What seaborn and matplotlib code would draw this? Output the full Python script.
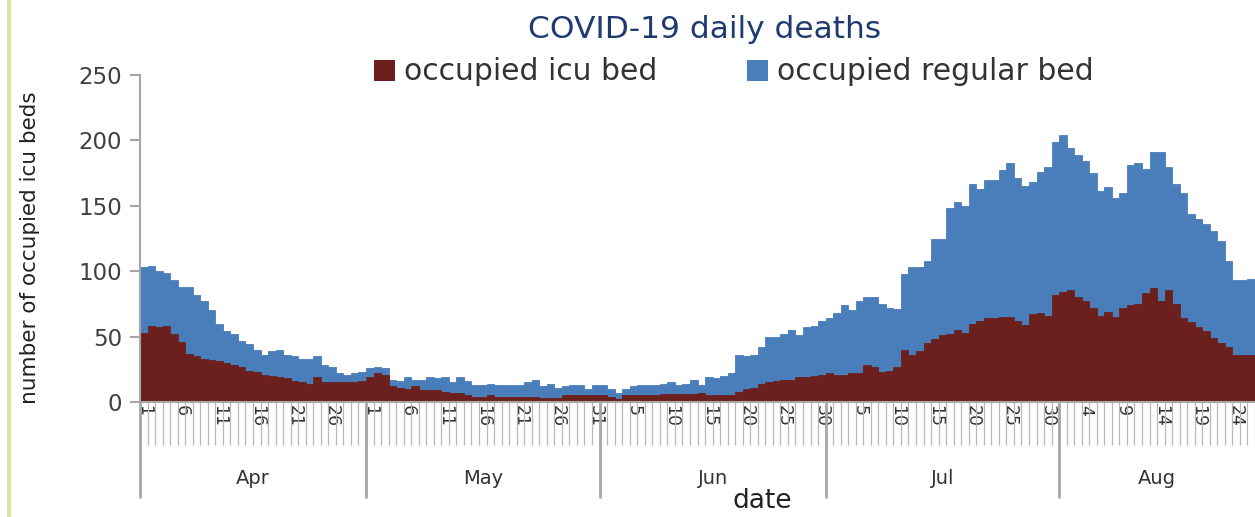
import numpy as np
import pandas as pd
import matplotlib
matplotlib.use("Agg")
import matplotlib.pyplot as plt
from matplotlib.patches import Patch
from matplotlib.lines import Line2D
from matplotlib import transforms
import seaborn as sns

# ---------------- data ----------------
start_date = "2020-04-01"
n_days = 148
icu = [53, 58, 57, 58, 52, 46, 37, 35, 33, 32, 31, 30, 28, 27, 24, 23, 21, 20, 19, 18,
       16, 15, 14, 19, 15, 15, 15, 15, 15, 16, 19, 22, 21, 12, 11, 10, 12, 9, 9, 9,
       8, 7, 7, 5, 4, 4, 5, 4, 4, 4, 4, 4, 4, 3, 3, 3, 5, 5, 5, 5,
       5, 5, 4, 2, 5, 5, 5, 5, 5, 6, 6, 6, 6, 6, 7, 5, 5, 5, 5, 8,
       10, 11, 14, 15, 16, 17, 17, 19, 19, 20, 21, 22, 21, 21, 22, 22, 28, 27, 23, 24,
       27, 40, 36, 39, 45, 48, 51, 52, 55, 53, 60, 62, 64, 64, 65, 65, 62, 59, 67, 68,
       66, 82, 84, 86, 80, 77, 72, 66, 69, 65, 72, 74, 75, 83, 87, 77, 86, 75, 64, 61,
       57, 54, 49, 45, 42, 36, 36, 36]
regular = [50, 46, 43, 41, 41, 42, 51, 47, 44, 38, 29, 24, 24, 20, 20, 17, 15, 19, 21, 18,
           19, 18, 19, 16, 13, 12, 7, 6, 7, 7, 7, 5, 5, 5, 5, 9, 5, 8, 10, 9,
           11, 8, 12, 11, 9, 9, 9, 9, 9, 9, 9, 11, 13, 9, 11, 8, 7, 8, 8, 5,
           8, 8, 6, 5, 5, 7, 8, 8, 8, 8, 9, 7, 8, 11, 6, 14, 13, 15, 17, 28,
           25, 25, 28, 35, 34, 35, 38, 32, 38, 38, 41, 42, 47, 53, 48, 55, 52, 53, 52, 48,
           44, 58, 67, 64, 63, 77, 74, 96, 98, 97, 107, 101, 106, 106, 112, 118, 109, 106, 101, 108,
           114, 117, 120, 108, 109, 107, 103, 95, 95, 91, 88, 107, 108, 95, 104, 114, 94, 92, 96, 83,
           83, 82, 82, 78, 66, 57, 57, 58]
y_ticks = [0, 50, 100, 150, 200, 250]
series_names = ["occupied icu bed", "occupied regular bed"]
title = "COVID-19 daily deaths"
y_label = "number of occupied icu beds"
x_label = "date"

# ---------------- derived ----------------
dates = pd.date_range(start_date, periods=n_days, freq="D")
idx = np.arange(n_days)
icu_a = np.array(icu, dtype=float)
total_a = icu_a + np.array(regular, dtype=float)
df = pd.DataFrame({"idx": idx, "icu": icu_a, "total": total_a})

c_icu = "#6B201D"
c_reg = "#4A7EBB"
grey = "#A6A6A6"
txt = "#333333"

W, H = 1255, 517
fig = plt.figure(figsize=(W / 100, H / 100), dpi=100)
sns.set_style("white")
plt.rcParams["font.family"] = ["DejaVu Sans"]

ax = fig.add_axes([140 / W, (H - 402) / H, (W - 140) / W, 327 / H])

sns.barplot(data=df, x="idx", y="total", color=c_reg, width=1.0, saturation=1,
            linewidth=0.6, edgecolor=c_reg, errorbar=None, ax=ax)
sns.barplot(data=df, x="idx", y="icu", color=c_icu, width=1.0, saturation=1,
            linewidth=0.6, edgecolor=c_icu, errorbar=None, ax=ax)

ax.set_xlim(-0.5, -0.5 + (W - 140) / 7.55)
ax.set_ylim(0, 250)
ax.set_yticks(y_ticks)
ax.set_yticklabels([str(v) for v in y_ticks], fontsize=16.5, color="#404040")
ax.tick_params(axis="y", length=7, width=1.5, color=grey, pad=6, left=True)

# x ticks: labels every 5 days, stripe ticks at every day boundary
lab_pos = idx[::5]
ax.set_xticks(lab_pos)
ax.set_xticklabels([str(d.day) for d in dates[::5]], rotation=-90, fontsize=12.5,
                   color=txt, va="top", ha="center")
ax.tick_params(axis="x", which="major", length=0, pad=2)
ax.set_xticks(np.arange(n_days + 1) - 0.5, minor=True)
ax.tick_params(axis="x", which="minor", length=31, width=0.9, color="#B8B8B8",
               bottom=True)
ax.set_xlabel("")
ax.set_ylabel("")

for s in ["top", "right"]:
    ax.spines[s].set_visible(False)
for s in ["left", "bottom"]:
    ax.spines[s].set_color(grey)
    ax.spines[s].set_linewidth(1.5)

# month separators and labels
trans = transforms.blended_transform_factory(ax.transData, ax.transAxes)
month_starts = [i for i in idx if dates[i].day == 1]
for m in month_starts:
    ax.plot([m - 0.5, m - 0.5], [0, -95 / 327], color=grey, lw=2,
            transform=trans, clip_on=False)
months = pd.Series(idx).groupby(dates.to_period("M")).agg(["min", "max"])
for per, row in months.iterrows():
    cx = (row["min"] + row["max"] + 1) / 2 - 0.5
    ax.text(cx, -76 / 327, per.strftime("%b"), transform=trans, ha="center",
            va="center", fontsize=14, color=txt)

# axis labels and title
fig.text(30 / W, 1 - 248 / H, y_label, rotation=90, ha="center", va="center",
         fontsize=15.5, color="#222222")
fig.text(762 / W, 1 - 501 / H, x_label, ha="center", va="center", fontsize=19,
         color="#222222")
fig.text(705 / W, 1 - 29 / H, title, ha="center", va="center", fontsize=22.5,
         color="#1F3A6E")

handles = [Patch(facecolor=c_icu, edgecolor="none"),
           Patch(facecolor=c_reg, edgecolor="none")]
fig.legend(handles, series_names, loc="center", bbox_to_anchor=(734 / W, 1 - 72 / H),
           ncol=2, frameon=False, fontsize=21.5, handlelength=0.7, handleheight=0.7,
           handletextpad=0.3, columnspacing=3.0, labelcolor="#333333")

# thin left border line
fig.add_artist(Line2D([9 / W, 9 / W], [0, 1], color="#D9E4A8", lw=3,
                      transform=fig.transFigure))

fig.savefig("out.png", dpi=100)
